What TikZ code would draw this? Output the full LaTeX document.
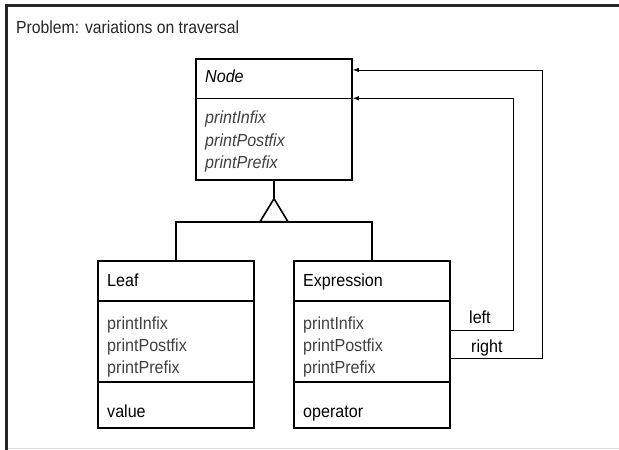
\documentclass[tikz,border=0pt]{standalone}
\usepackage{fontspec}
\setmainfont{Liberation Sans}
\usetikzlibrary{arrows.meta,positioning}
\newcommand{\squeezetext}[2][0.92]{\scalebox{#1}[1]{#2}}

\begin{document}
\begin{tikzpicture}[
  x=1pt, y=-1pt,
  frame line/.style={line width=2.6pt, color=black!85},
  compartment/.style={draw, line width=1.6pt, minimum width=156pt, inner sep=0pt, outer sep=0pt, anchor=north west},
  class line/.style={line width=1.6pt},
  assoc line/.style={line width=0.8pt, -{Latex[length=6pt,width=4.5pt]}, shorten >=0.8pt},
  label text/.style={anchor=base west, inner sep=0pt, font=\fontsize{17.5}{20}\selectfont},
  method/.style={label text, text=black!75},
  abstract/.style={font=\fontsize{17.5}{20}\selectfont\itshape}
  ]
  \useasboundingbox (0,0) rectangle (619,450);
  \draw[frame line] (6.5,450) -- (6.5,5.5) -- (619,5.5);
  \draw[black!12, line width=1pt] (8,448.5) -- (619,448.5);
  \node[label text, text=black!85] (title) at (16,33) {\squeezetext[0.9]{Problem: variations on traversal}};

  % abstract class
  \node[compartment, minimum height=39.3pt] (nodeName) at (196,59) {};
  \node[compartment, minimum height=81.7pt, below=0pt of nodeName] (nodeOps) {};
  \node[label text, abstract] (nodeTitle) at (205,82) {\squeezetext{Node}};
  \foreach \m [count=\i] in {printInfix,printPostfix,printPrefix}
    \node[method, abstract] (nodeOp\i) at (205,101+22.5*\i) {\squeezetext{\m}};

  % subclasses
  \node[compartment, minimum height=40pt] (leafName) at (98,261) {};
  \node[compartment, minimum height=81pt, below=0pt of leafName] (leafOps) {};
  \node[compartment, minimum height=46pt, below=0pt of leafOps] (leafAttr) {};
  \node[compartment, minimum height=40pt] (exprName) at (294,261) {};
  \node[compartment, minimum height=81pt, below=0pt of exprName] (exprOps) {};
  \node[compartment, minimum height=46pt, below=0pt of exprOps] (exprAttr) {};

  \node[label text] (leafTitle) at (107,286) {\squeezetext{Leaf}};
  \node[label text] (exprTitle) at (303,286) {\squeezetext{Expression}};
  \foreach \m [count=\i] in {printInfix,printPostfix,printPrefix} {
    \node[method] (leafOp\i) at (107,307+22*\i) {\squeezetext{\m}};
    \node[method] (exprOp\i) at (303,307+22*\i) {\squeezetext{\m}};
  }
  \node[label text] (leafValue) at (107,417) {\squeezetext{value}};
  \node[label text] (exprOperator) at (303,417) {\squeezetext{operator}};

  % generalization
  \draw[class line] (nodeOps.south) -- ++(0,18.7) coordinate (apex);
  \draw[class line, line join=miter] (apex) -- ++(-14,23) coordinate (tribase) -- ++(28,0) -- cycle;
  \draw[class line] (leafName.north) -- (leafName.north |- tribase) -- (exprName.north |- tribase) -- (exprName.north);

  % associations
  \draw[assoc line] ([yshift=11.5pt]exprOps.east) -- ++(63,0) |- (nodeName.south east);
  \draw[assoc line] ([yshift=-16.5pt]exprOps.east) -- ++(92,0) |- ([yshift=8.7pt]nodeName.east);
  \node[label text] (leftLabel) at (469,323) {\squeezetext{left}};
  \node[label text] (rightLabel) at (471,352) {\squeezetext{right}};
\end{tikzpicture}
\end{document}
